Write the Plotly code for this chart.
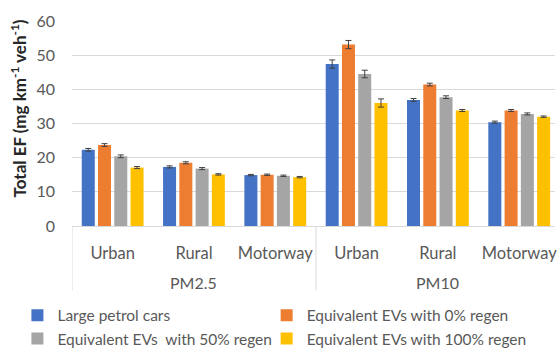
import plotly.graph_objects as go

pollutants = ["PM2.5", "PM2.5", "PM2.5", "PM10", "PM10", "PM10"]
roads = ["Urban", "Rural", "Motorway", "Urban", "Rural", "Motorway"]
groups = ["PM2.5", "PM10"]

series_names = [
    "Large petrol cars",
    "Equivalent EVs with 0% regen",
    "Equivalent EVs  with 50% regen",
    "Equivalent EVs with 100% regen",
]
petrol = [22.3, 17.3, 14.9, 47.4, 36.9, 30.4]
ev0 = [23.7, 18.5, 15.0, 53.1, 41.4, 33.8]
ev50 = [20.4, 16.8, 14.7, 44.5, 37.7, 32.8]
ev100 = [17.1, 15.1, 14.3, 36.0, 33.8, 32.0]

petrol_err = [0.4, 0.3, 0.2, 1.2, 0.4, 0.3]
ev0_err = [0.4, 0.3, 0.2, 1.2, 0.4, 0.3]
ev50_err = [0.4, 0.3, 0.2, 1.1, 0.4, 0.3]
ev100_err = [0.3, 0.2, 0.2, 1.2, 0.3, 0.2]

colors = ["#4472C4", "#ED7D31", "#A5A5A5", "#FFC000"]

values = [petrol, ev0, ev50, ev100]
errors = [petrol_err, ev0_err, ev50_err, ev100_err]
# left legend column drawn last (legend2) so nothing covers its text
legend_ids = ["legend2", "legend", "legend2", "legend"]

cats = [f"{p}|{r}" for p, r in zip(pollutants, roads)]

font_family = "Lato, Open Sans, sans-serif"

fig = go.Figure()
for k, (name, vals, errs, col, lg) in enumerate(zip(series_names, values, errors, colors, legend_ids)):
    fig.add_trace(go.Bar(
        x=cats, y=vals, name=name, legend=lg, legendgroup=f"g{k}",
        marker=dict(color=col, line=dict(width=0)),
        error_y=dict(type="data", array=errs, visible=True,
                     color="#404040", thickness=1, width=3),
    ))

# group labels (outer level of the category axis)
for g in groups:
    idx = [i for i, p in enumerate(pollutants) if p == g]
    center = sum(idx) / len(idx)
    fig.add_annotation(x=center, xref="x", y=-0.275, yref="paper",
                       text=g, showarrow=False, yanchor="middle",
                       font=dict(size=16, color="#595959", family=font_family))

# dividers between groups
n = len(cats)
bounds = [-0.5] + [i + 0.5 for i in range(n - 1) if pollutants[i] != pollutants[i + 1]]
for b in bounds:
    fig.add_shape(type="line", xref="x", yref="paper", x0=b, x1=b, y0=0, y1=-0.315,
                  line=dict(color="#D9D9D9", width=1))

fig.add_annotation(x=-0.11, xref="paper", y=0.573, yref="paper",
                   text="<b>Total EF (mg km<sup>-1</sup> veh<sup>-1</sup>)</b>",
                   textangle=-90, showarrow=False, xanchor="center", yanchor="middle",
                   font=dict(size=17, color="#262626", family=font_family))

legend_common = dict(orientation="v", xanchor="left", yanchor="top",
                     font=dict(size=15.5, color="#595959", family=font_family),
                     traceorder="normal", itemwidth=30, tracegroupgap=5,
                     bgcolor="rgba(0,0,0,0)", borderwidth=0)

fig.update_layout(
    width=557, height=356,
    margin=dict(l=72, r=0, t=21, b=125),
    paper_bgcolor="white", plot_bgcolor="white",
    barmode="group", bargap=0.2, bargroupgap=0.2,
    font=dict(family=font_family, size=16, color="#595959"),
    showlegend=True,
    legend2=dict(x=-0.113, y=-0.355, **legend_common),
    legend=dict(x=0.403, y=-0.355, **legend_common),
)
fig.update_xaxes(
    type="category",
    range=[-0.5, 5.44],
    tickvals=cats, ticktext=roads,
    showgrid=False,
    showline=True, linecolor="#D9D9D9", linewidth=1,
    tickfont=dict(size=16.5, color="#595959", family=font_family),
    ticks="", ticklabelstandoff=12,
)
fig.update_yaxes(
    range=[0, 60], dtick=10,
    showgrid=True, gridcolor="#D9D9D9", gridwidth=1,
    zeroline=False, showline=False,
    tickfont=dict(size=16, color="#595959", family=font_family),
    ticklabelstandoff=16,
)

fig.write_html("out.html")
